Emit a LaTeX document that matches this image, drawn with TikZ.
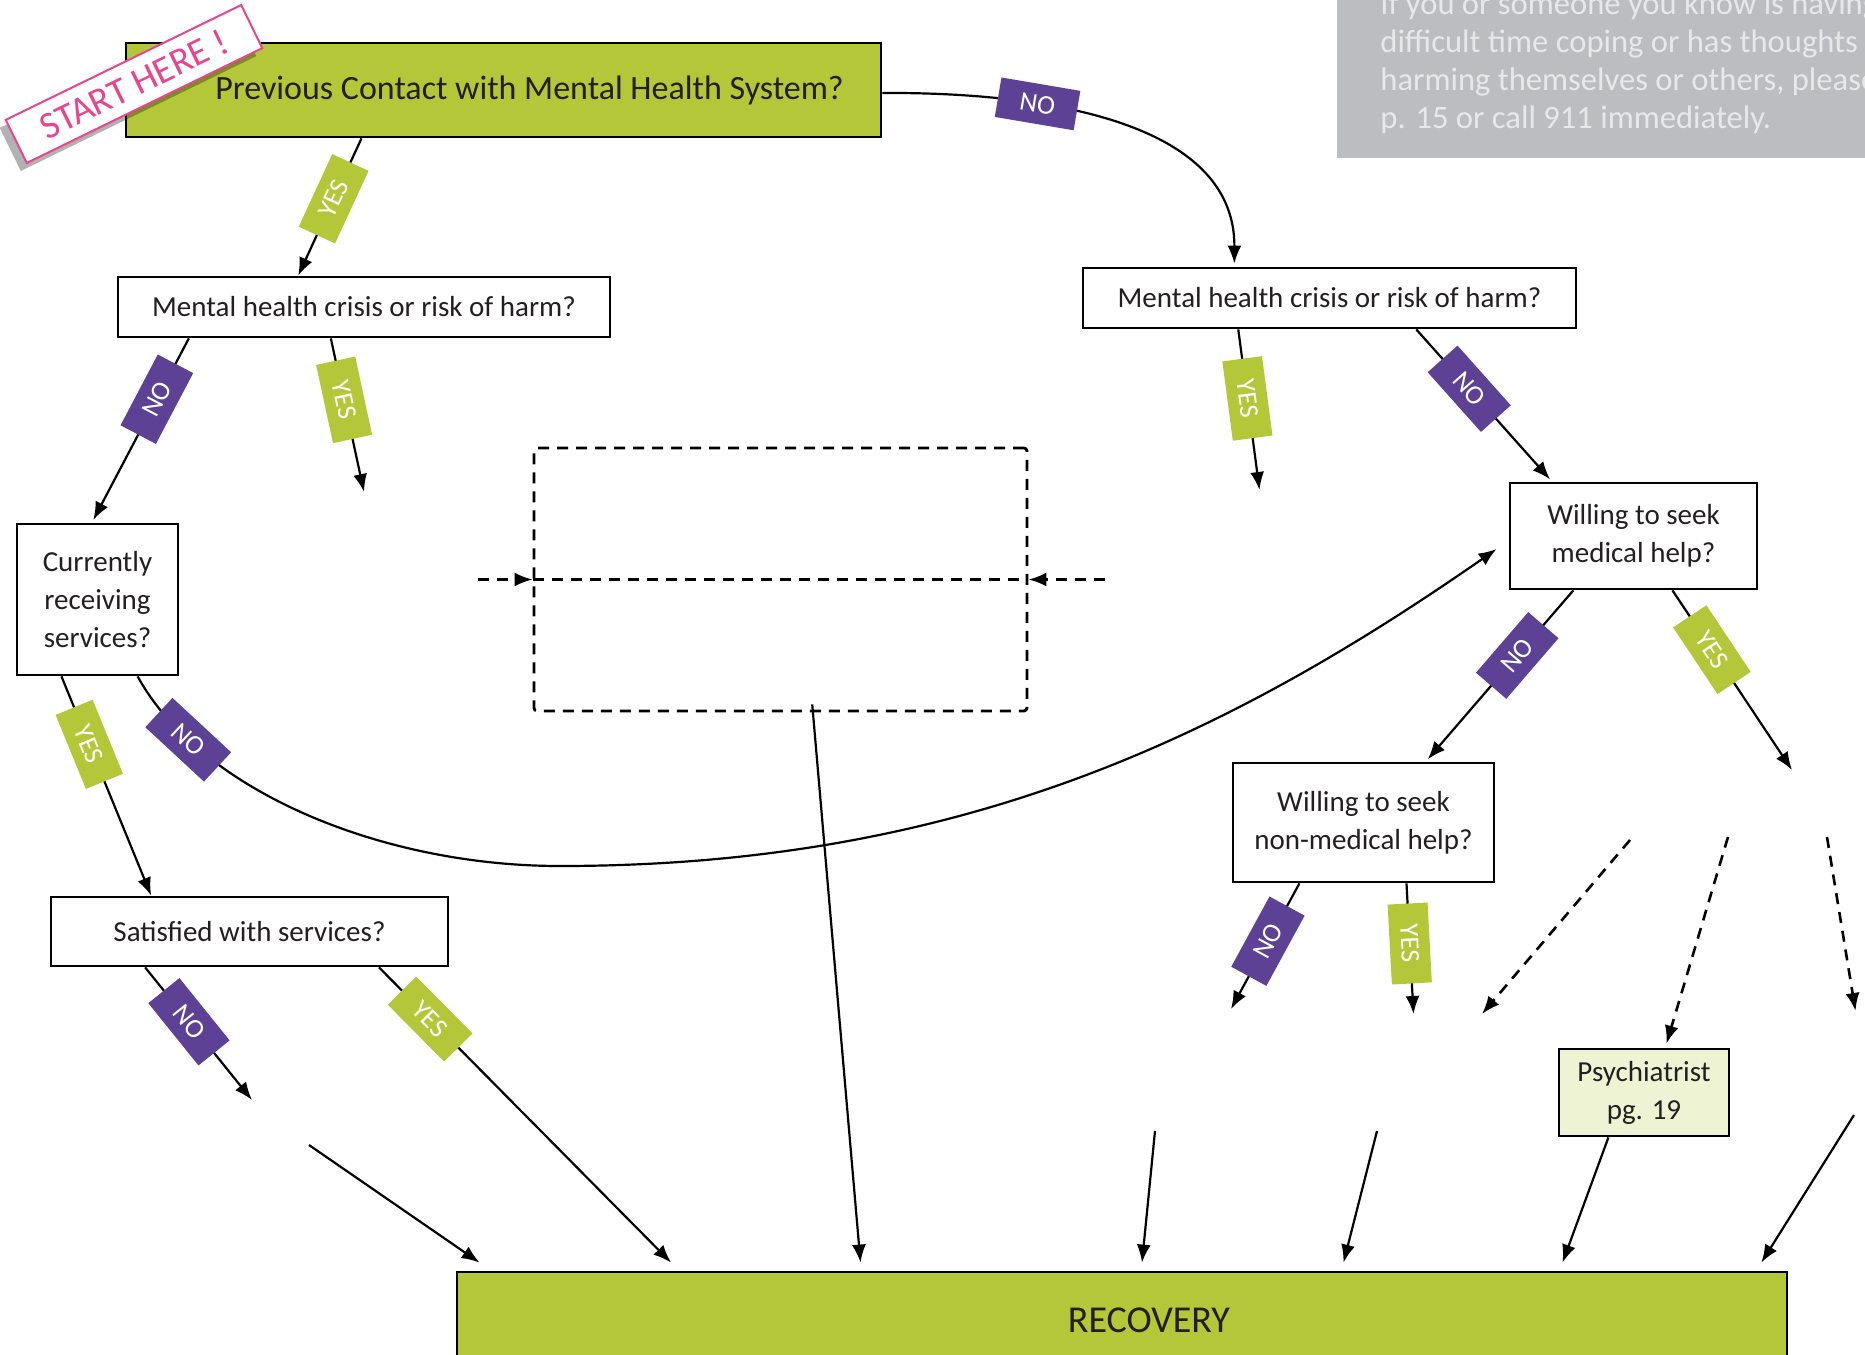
\documentclass[tikz,border=0pt]{standalone}
\usepackage{fontspec}
\setmainfont{Carlito}
\usetikzlibrary{arrows.meta,calc,shadows}
\definecolor{lgreen}{RGB}{180,199,57}
\definecolor{lpurple}{RGB}{92,65,148}
\definecolor{lpink}{RGB}{232,70,140}
\definecolor{lgray}{RGB}{188,189,192}
\definecolor{lgtext}{RGB}{232,232,233}
\definecolor{psyfill}{RGB}{238,243,212}
\definecolor{ink}{RGB}{35,31,32}
\begin{document}
\begin{tikzpicture}[x=0.5pt,y=-0.5pt,
  every node/.style={inner sep=0pt},
  qbox/.style={draw=black, line width=1.4pt, fill=white, text=ink, font=\fontsize{14.5}{19}\selectfont},
  mbox/.style={qbox, align=center},
  tagbase/.style={minimum width=40pt, minimum height=20pt, inner sep=0pt, text=white, font=\fontsize{13.5}{15}\selectfont, sloped},
  yestag/.style={tagbase, fill=lgreen},
  notag/.style={tagbase, fill=lpurple},
  conn/.style={line width=1.1pt, -{Latex[length=9pt,width=7pt]}},
  dconn/.style={conn, line width=1.3pt, dash pattern=on 5.5pt off 4pt},
  gtext/.style={anchor=base west, text=lgtext, font=\fontsize{16.3}{19}\selectfont}]
\useasboundingbox (0,0) rectangle (1865,1355);
\clip (0,0) rectangle (1865,1355);

% grey help box
\node[fill=lgray, minimum width=300pt, minimum height=89pt, anchor=north west] (gbox) at (1337,-20) {};
\node[gtext] (g1) at (1380,14) {If you or someone you know is having a};
\node[gtext] (g2) at (1380,52) {difficult time coping or has thoughts of};
\node[gtext] (g3) at (1380,90) {harming themselves or others, please see};
\node[gtext] (g4) at (1380,128) {p. 15 or call 911 immediately.};

% boxes
\node[qbox, fill=lgreen, minimum width=377.5pt, minimum height=47pt, font=\fontsize{17}{20}\selectfont] (top) at (503.5,90) {\hspace*{26pt}Previous Contact with Mental Health System?};
\node[qbox, minimum width=246pt, minimum height=30pt] (crisisL) at (364,307) {Mental health crisis or risk of harm?};
\node[qbox, minimum width=246.5pt, minimum height=30pt] (crisisR) at (1329.5,298) {Mental health crisis or risk of harm?};
\node[mbox, minimum width=80.5pt, minimum height=75.5pt] (curr) at (97.5,599.5) {Currently\\receiving\\services?};
\node[mbox, minimum width=123.5pt, minimum height=53pt] (willMed) at (1633.5,536) {Willing to seek\\medical help?};
\node[mbox, minimum width=130.5pt, minimum height=59.5pt] (willNon) at (1363.5,822.5) {Willing to seek\\non-medical help?};
\node[qbox, minimum width=198.5pt, minimum height=34.5pt] (sat) at (249.5,931.5) {Satisfied with services?};
\node[mbox, fill=psyfill, minimum width=85pt, minimum height=43.5pt] (psych) at (1644,1092.5) {Psychiatrist\\pg. 19};
\node[qbox, fill=lgreen, minimum width=665pt, minimum height=48pt, font=\fontsize{19}{21}\selectfont] (recov) at (1122,1320) {\hspace*{27pt}RECOVERY};
\node[draw=black, line width=1.4pt, dash pattern=on 5.5pt off 4pt, rounded corners=1.5pt, minimum width=246.5pt, minimum height=131.5pt] (dbox) at (780.5,579.5) {};

% start tag
\node[draw=lpink, line width=1pt, fill=white, text=lpink, font=\fontsize{19}{20}\selectfont, minimum width=131pt, minimum height=24pt, rotate=26, drop shadow={shadow xshift=-3pt, shadow yshift=-4pt, fill=black, opacity=0.3}] (start) at (134,84) {START HERE !};

% free coordinates
\coordinate (f4) at (364,492);
\coordinate (f5) at (1259.5,490);
\coordinate (f8) at (1792,770);
\coordinate (f9) at (1231,1009);
\coordinate (f10) at (1413.5,1014);
\coordinate (f13) at (252,1100);
\coordinate (cbot) at (560,866);
\coordinate (s15) at (309,1145);
\coordinate (s17) at (1155,1131);
\coordinate (s18) at (1377,1131);
\coordinate (s20) at (1854,1115);
\coordinate (d1s) at (1630,840);
\coordinate (d1e) at (1482,1014);
\coordinate (d2s) at (1728,837);
\coordinate (d3s) at (1827,837);
\coordinate (d3e) at (1855.5,1011);
\coordinate (dl) at (478,579.5);
\coordinate (dr) at (1105,579.5);

% connectors
\draw[conn] ($(top.south west)!0.3126!(top.south east)$) -- node[yestag,pos=0.44] (t1) {YES} ($(crisisL.north west)!0.367!(crisisL.north east)$);
\draw[conn, shorten >=1.5pt] ($(top.east)+(0,3)$) .. controls (1040,92) and (1235,120) .. ($(crisisR.north west)!0.308!(crisisR.north east)$) node[notag,pos=0.32] (t2) {NO};
\draw[conn, shorten >=1.5pt] ($(crisisL.south west)!0.146!(crisisL.south east)$) -- node[notag,pos=0.33] (t3) {NO} ($(curr.north west)!0.466!(curr.north east)$);
\draw[conn] ($(crisisL.south west)!0.433!(crisisL.south east)$) -- node[yestag,pos=0.4] (t4) {YES} (f4);
\draw[conn] ($(crisisR.south west)!0.316!(crisisR.south east)$) -- node[yestag,pos=0.43] (t5) {YES} (f5);
\draw[conn, shorten >=1.5pt] ($(crisisR.south west)!0.675!(crisisR.south east)$) -- node[notag,pos=0.39] (t6) {NO} ($(willMed.north west)!0.174!(willMed.north east)$);
\draw[conn, shorten >=1.5pt] ($(willMed.south west)!0.259!(willMed.south east)$) -- node[notag,pos=0.38] (t7) {NO} ($(willNon.north west)!0.736!(willNon.north east)$);
\draw[conn] ($(willMed.south west)!0.656!(willMed.south east)$) -- node[yestag,pos=0.33] (t8) {YES} (f8);
\draw[conn] ($(willNon.south west)!0.257!(willNon.south east)$) -- node[notag,pos=0.46] (t9) {NO} (f9);
\draw[conn] ($(willNon.south west)!0.663!(willNon.south east)$) -- node[yestag,pos=0.46] (t10) {YES} (f10);
\draw[conn] ($(curr.south west)!0.28!(curr.south east)$) -- node[yestag,pos=0.31] (t11) {YES} ($(sat.north west)!0.254!(sat.north east)$);
\draw[conn] ($(curr.south west)!0.745!(curr.south east)$) .. controls (200,790) and (380,866) .. (cbot) node[notag,pos=0.2] (t12) {NO} .. controls (960,866) and (1226,737) .. ($(willMed.west)+(-12,13)$);
\draw[conn] ($(sat.south west)!0.239!(sat.south east)$) -- node[notag,pos=0.41] (t13) {NO} (f13);
\draw[conn] ($(sat.south west)!0.824!(sat.south east)$) -- node[yestag,pos=0.175] (t14) {YES} ($(recov.north west)!0.1617!(recov.north east)+(0,-8)$);
\draw[conn] (s15) -- ($(recov.north west)!0.018!(recov.north east)+(0,-8)$);
\draw[conn] ($(dbox.south west)!0.564!(dbox.south east)+(0,-8)$) -- ($(recov.north west)!0.3038!(recov.north east)+(0,-8)$);
\draw[conn] (s17) -- ($(recov.north west)!0.515!(recov.north east)+(0,-8)$);
\draw[conn] (s18) -- ($(recov.north west)!0.6662!(recov.north east)+(0,-8)$);
\draw[conn] ($(psych.south west)!0.294!(psych.south east)$) -- ($(recov.north west)!0.8305!(recov.north east)+(0,-8)$);
\draw[conn] (s20) -- ($(recov.north west)!0.9797!(recov.north east)+(0,-8)$);

% dashed
\draw[line width=1.4pt, dash pattern=on 5.5pt off 4pt] (dbox.west) -- (dbox.east);
\draw[dconn] (dl) -- (dbox.west);
\draw[dconn] (dr) -- (dbox.east);
\draw[dconn] (d1s) -- (d1e);
\draw[dconn] (d2s) -- ($(psych.north west)!0.63!(psych.north east)+(0,-4)$);
\draw[dconn] (d3s) -- (d3e);
\end{tikzpicture}
\end{document}
